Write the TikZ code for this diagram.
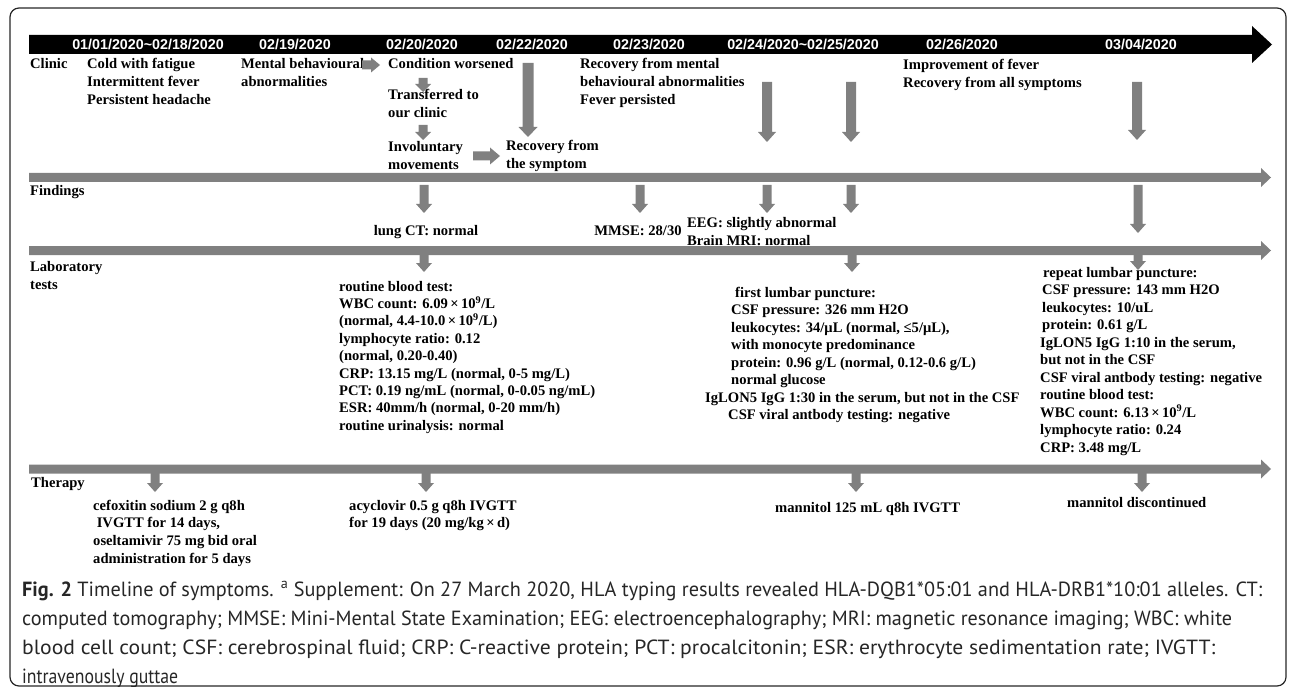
\documentclass[tikz,border=0pt]{standalone}
\usepackage{fontspec}
\usepackage{graphicx}
\setmainfont{Liberation Serif}
\newfontfamily\datefont{Liberation Sans}
\newfontfamily\capfont{PT Sans}
\definecolor{arrgray}{RGB}{128,128,128}
\newcommand\DArr[6]{\fill[arrgray] (#1-#4,#2) -- (#1+#4,#2) -- (#1+#4,#3-#6) -- (#1+#5,#3-#6) -- (#1,#3) -- (#1-#5,#3-#6) -- (#1-#4,#3-#6) -- cycle;}
\newcommand\RArr[6]{\fill[arrgray] (#1,#3-#4) -- (#2-#6,#3-#4) -- (#2-#6,#3-#5) -- (#2,#3) -- (#2-#6,#3+#5) -- (#2-#6,#3+#4) -- (#1,#3+#4) -- cycle;}
\newcommand\GBar[1]{\fill[arrgray] (29,#1-4.5) -- (1261,#1-4.5) -- (1261,#1-9.5) -- (1271,#1) -- (1261,#1+9.5) -- (1261,#1+4.5) -- (29,#1+4.5) -- cycle;}
\newcommand\TLines[5]{\foreach \t [count=\i from 0] in {#5} {\node[txt] (#1\i) at (#2,#3+\i*#4) {\t};}}
\newcommand\CapLine[4]{\node[captxt] (#1) at (22,#2) {\resizebox{#3pt}{\height}{#4}};}
\begin{document}
\begin{tikzpicture}[x=1pt,y=-1pt,
 txt/.style={font=\fontsize{14.6}{17.6}\selectfont\bfseries,inner sep=0pt,anchor=base west},
 ctxt/.style={txt,anchor=base},
 datetxt/.style={font=\datefont\fontsize{14.3}{16}\selectfont\bfseries,text=white,inner sep=0pt,anchor=base},
 captxt/.style={font=\capfont\fontsize{20.5}{24}\selectfont,inner sep=0pt,anchor=base west,text=black!85}]
\useasboundingbox (0,0) rectangle (1290,687);
\draw[line width=1.2pt,black!85,rounded corners=9pt] (10,8) rectangle (1286,686);
% black timeline
\fill[black] (29,35) -- (1252,35) -- (1252,26) -- (1272,44.5) -- (1252,63) -- (1252,54) -- (29,54) -- cycle;
\node[datetxt] (d1) at (148,49.2) {01/01/2020\textasciitilde 02/18/2020};
\node[datetxt] (d2) at (295,49.2) {02/19/2020};
\node[datetxt] (d3) at (422,49.2) {02/20/2020};
\node[datetxt] (d4) at (532,49.2) {02/22/2020};
\node[datetxt] (d5) at (649,49.2) {02/23/2020};
\node[datetxt] (d6) at (803,49.2) {02/24/2020\textasciitilde 02/25/2020};
\node[datetxt] (d7) at (962,49.2) {02/26/2020};
\node[datetxt] (d8) at (1141,49.2) {03/04/2020};
% gray bars
\GBar{177.5}
\GBar{250.5}
\GBar{469}
% row labels
\node[txt] (lclinic) at (30,69) {Clinic};
\node[txt] (lfind) at (30,196) {Findings};
\TLines{llab}{30}{271}{18}{{Laboratory},{tests}}
\node[txt] (lther) at (31,487) {Therapy};
% clinic
\TLines{cold}{87}{69}{18}{{Cold with fatigue},{Intermittent fever},{Persistent headache}}
\TLines{ment}{241}{69}{18}{{Mental behavioural},{abnormalities}}
\node[txt] (cond) at (388,69) {Condition worsened};
\TLines{trans}{388}{100}{18}{{Transferred to},{our clinic}}
\TLines{invol}{388}{152}{18}{{Involuntary},{movements}}
\TLines{recs}{506}{151}{18}{{Recovery from},{the symptom}}
\TLines{recm}{580}{69}{18}{{Recovery from mental},{behavioural abnormalities},{Fever persisted}}
\TLines{impr}{903}{70}{18}{{Improvement of fever},{Recovery from all symptoms}}
\RArr{362}{380}{65}{4.5}{7.5}{9}
\DArr{423}{78}{92}{4.5}{8}{8}
\DArr{423}{125}{140}{4.5}{8}{8}
\RArr{473}{500}{156}{4.5}{8.5}{10}
\DArr{528}{63}{137}{5.5}{9.5}{10}
\DArr{767}{82}{142}{5}{9}{10}
\DArr{851}{82}{142}{5}{9}{10}
\DArr{1137}{82}{140}{5}{9}{10}
% findings
\DArr{424}{185}{213}{4.5}{8}{9}
\DArr{640}{185}{213}{4.5}{8}{9}
\DArr{767}{185}{213}{4.5}{8}{9}
\DArr{851}{185}{213}{4.5}{8}{9}
\DArr{1138}{185}{233}{4.5}{8}{9}
\node[ctxt] (lung) at (426,236) {lung CT: normal};
\node[ctxt] (mmse) at (638,236) {MMSE: 28/30};
\TLines{eeg}{687}{227}{18}{{EEG: slightly abnormal},{Brain MRI: normal}}
% laboratory
\DArr{424}{255}{272}{4.5}{8}{9}
\DArr{852}{255}{272}{4.5}{8}{9}
\DArr{1138}{255}{270}{4.5}{8}{9}
\TLines{rb}{339}{291}{17.4}{{routine blood test:},{WBC count: 6.09\,×\,10\textsuperscript{9}/L},{(normal, 4.4-10.0\,×\,10\textsuperscript{9}/L)},{lymphocyte ratio: 0.12},{(normal, 0.20-0.40)},{CRP: 13.15 mg/L (normal, 0-5 mg/L)},{PCT: 0.19 ng/mL (normal, 0-0.05 ng/mL)},{ESR: 40mm/h (normal, 0-20 mm/h)},{routine urinalysis: normal}}
\node[txt] (lp0) at (735,297) {first lumbar puncture:};
\node[txt] (lp1) at (731,314.5) {CSF pressure: 326 mm H2O};
\node[txt] (lp2) at (731,332) {leukocytes: 34/μL (normal, ≤5/μL),};
\node[txt] (lp3) at (731,349.5) {with monocyte predominance};
\node[txt] (lp4) at (731,367) {protein: 0.96 g/L (normal, 0.12-0.6 g/L)};
\node[txt] (lp5) at (731,384.5) {normal glucose};
\node[txt] (lp6) at (705,402) {IgLON5 IgG 1:30 in the serum, but not in the CSF};
\node[txt] (lp7) at (728,419.5) {CSF viral antbody testing: negative};
\node[txt] (rp0) at (1043,277) {repeat lumbar puncture:};
\node[txt] (rp1) at (1042,294.5) {CSF pressure: 143 mm H2O};
\node[txt] (rp2) at (1042,312) {leukocytes: 10/uL};
\node[txt] (rp3) at (1042,329.5) {protein: 0.61 g/L};
\node[txt] (rp4) at (1040,347) {IgLON5 IgG 1:10 in the serum,};
\node[txt] (rp5) at (1040,364.5) {but not in the CSF};
\node[txt] (rp6) at (1040,382) {CSF viral antbody testing: negative};
\node[txt] (rp7) at (1040,399.5) {routine blood test:};
\node[txt] (rp8) at (1040,417) {WBC count: 6.13\,×\,10\textsuperscript{9}/L};
\node[txt] (rp9) at (1040,434.5) {lymphocyte ratio: 0.24};
\node[txt] (rp10) at (1040,452) {CRP: 3.48 mg/L};
% therapy
\DArr{155}{473}{492}{4.5}{8}{9}
\DArr{426}{473}{492}{4.5}{8}{9}
\DArr{856}{473}{492}{4.5}{8}{9}
\DArr{1142}{473}{492}{4.5}{8}{9}
\TLines{cef}{93}{510}{17.7}{{cefoxitin sodium 2 g q8h},{\hspace*{3.6pt}IVGTT for 14 days,},{oseltamivir 75 mg bid oral},{administration for 5 days}}
\TLines{acy}{349}{510}{17.7}{{acyclovir 0.5 g q8h IVGTT},{for 19 days (20 mg/kg\,×\,d)}}
\node[txt] (man) at (775,512) {mannitol 125 mL q8h IVGTT};
\node[txt] (mand) at (1067,507) {mannitol discontinued};
% caption
\CapLine{cap1}{596}{1240}{\textbf{Fig. 2} Timeline of symptoms. \textsuperscript{a} Supplement: On 27 March 2020, HLA typing results revealed HLA-DQB1*05:01 and HLA-DRB1*10:01 alleles. CT:}
\CapLine{cap2}{625}{1210}{computed tomography; MMSE: Mini-Mental State Examination; EEG: electroencephalography; MRI: magnetic resonance imaging; WBC: white}
\CapLine{cap3}{654}{1193}{blood cell count; CSF: cerebrospinal fluid; CRP: C-reactive protein; PCT: procalcitonin; ESR: erythrocyte sedimentation rate; IVGTT:}
\CapLine{cap4}{683}{156}{intravenously guttae}
\end{tikzpicture}
\end{document}
